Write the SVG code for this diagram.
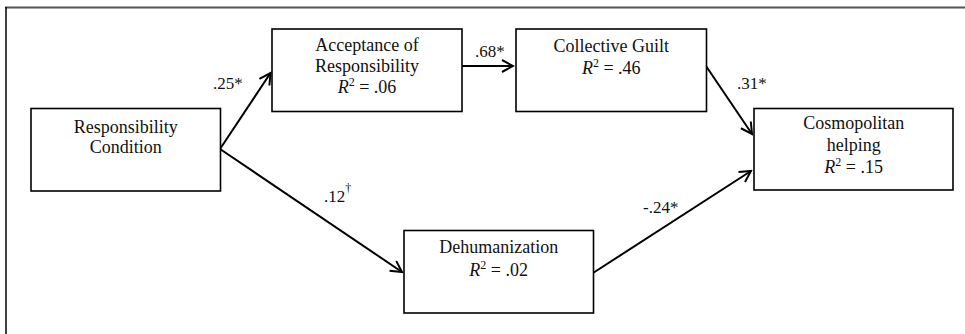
<svg xmlns="http://www.w3.org/2000/svg" width="965" height="334" viewBox="0 0 965 334">
<defs>
<style>
.box{fill:#fff;stroke:#000;stroke-width:1.6}
.t{font-family:'Liberation Serif',Tinos,'Times New Roman',Times,'Nimbus Roman','DejaVu Serif',serif;font-size:18px;fill:#111;text-anchor:middle}
.l{font-family:'Liberation Serif',Tinos,'Times New Roman',Times,'Nimbus Roman','DejaVu Serif',serif;font-size:17px;fill:#111}
.e{fill:none;stroke:#000;stroke-width:2}
.i{font-style:italic}
.sup{font-size:12px}
</style>
<marker id="ah" markerUnits="userSpaceOnUse" markerWidth="14" markerHeight="14" viewBox="0 0 14 14" refX="12" refY="7" orient="auto">
<path d="M1,1 L12,7 L1,13" fill="none" stroke="#000" stroke-width="2"/>
</marker>
</defs>
<rect width="965" height="334" fill="#fff"/>
<line x1="5" y1="7.5" x2="965" y2="7.5" stroke="#555" stroke-width="2.2"/>
<line x1="6" y1="7" x2="6" y2="334" stroke="#000" stroke-width="1.5"/>
<g id="connectors">
<line class="e" x1="220" y1="149" x2="270.5" y2="73" marker-end="url(#ah)"/>
<line class="e" x1="220" y1="149" x2="402" y2="272" marker-end="url(#ah)"/>
<line class="e" x1="462" y1="66" x2="513" y2="66" marker-end="url(#ah)"/>
<line class="e" x1="706" y1="66" x2="752" y2="134" marker-end="url(#ah)"/>
<line class="e" x1="593" y1="273" x2="751" y2="171" marker-end="url(#ah)"/>
<text class="l" x="213" y="89">.25*</text>
<text class="l" x="475" y="57">.68*</text>
<text class="l" x="737" y="89">.31*</text>
<text class="l" x="324" y="202">.12<tspan class="sup" dy="-10">†</tspan></text>
<text class="l" x="643" y="213">-.24*</text>
</g>
<g id="responsibility-condition">
<rect class="box" x="31" y="108.5" width="189.5" height="82.5"/>
<text class="t" x="125.8" y="133">Responsibility</text>
<text class="t" x="125.8" y="153">Condition</text>
</g>
<g id="acceptance">
<rect class="box" x="272" y="29" width="190" height="82.5"/>
<text class="t" x="367" y="51">Acceptance of</text>
<text class="t" x="367" y="72">Responsibility</text>
<text class="t" x="367" y="93"><tspan class="i">R</tspan><tspan class="sup" dy="-7">2</tspan><tspan dy="7"> = .06</tspan></text>
</g>
<g id="collective-guilt">
<rect class="box" x="516" y="29" width="190.5" height="82.5"/>
<text class="t" x="611.3" y="52">Collective Guilt</text>
<text class="t" x="611.3" y="74"><tspan class="i">R</tspan><tspan class="sup" dy="-7">2</tspan><tspan dy="7"> = .46</tspan></text>
</g>
<g id="cosmopolitan-helping">
<rect class="box" x="754" y="108.5" width="199" height="81.5"/>
<text class="t" x="853.7" y="129">Cosmopolitan</text>
<text class="t" x="853.7" y="151">helping</text>
<text class="t" x="853.7" y="173"><tspan class="i">R</tspan><tspan class="sup" dy="-7">2</tspan><tspan dy="7"> = .15</tspan></text>
</g>
<g id="dehumanization">
<rect class="box" x="404" y="230.5" width="189.5" height="82.5"/>
<text class="t" x="498.7" y="253">Dehumanization</text>
<text class="t" x="498.7" y="276"><tspan class="i">R</tspan><tspan class="sup" dy="-7">2</tspan><tspan dy="7"> = .02</tspan></text>
</g>
</svg>
